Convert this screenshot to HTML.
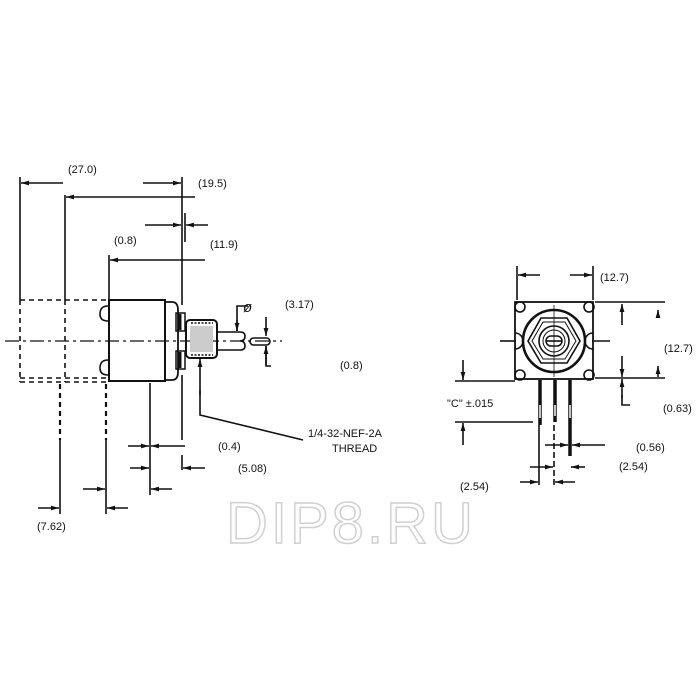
<!DOCTYPE html>
<html><head><style>html,body{margin:0;padding:0;background:#fff}svg{display:block}</style></head>
<body>
<svg width="700" height="700" viewBox="0 0 700 700" xmlns="http://www.w3.org/2000/svg">
<defs>
<marker id="a" viewBox="0 0 10 6" refX="10" refY="3" markerWidth="8" markerHeight="5" orient="auto-start-reverse" markerUnits="userSpaceOnUse"><path d="M0,0L10,3L0,6z" fill="#111"/></marker>
</defs>
<g stroke="#111" stroke-width="1.6" fill="none">
<line x1="20" y1="177" x2="20" y2="300"/>
<line x1="65" y1="195" x2="65" y2="300"/>
<line x1="109" y1="255" x2="109" y2="300"/>
<line x1="182" y1="177" x2="182" y2="305"/>
<line x1="182" y1="375" x2="182" y2="440"/>
<line x1="185" y1="213" x2="185" y2="242"/>
<line x1="182" y1="455" x2="182" y2="470"/>
<line x1="63" y1="183" x2="21" y2="183" marker-end="url(#a)"/>
<line x1="143" y1="183" x2="181" y2="183" marker-end="url(#a)"/>
<line x1="195" y1="197" x2="66" y2="197" marker-end="url(#a)"/>
<line x1="145" y1="225" x2="181" y2="225" marker-end="url(#a)"/>
<line x1="208" y1="225" x2="186" y2="225" marker-end="url(#a)"/>
<line x1="205" y1="260" x2="110" y2="260" marker-end="url(#a)"/>
<g stroke-dasharray="5,4">
<line x1="20" y1="300" x2="108" y2="300"/>
<line x1="20" y1="300" x2="20" y2="382"/>
<line x1="20" y1="382" x2="108" y2="382"/>
<line x1="20" y1="378" x2="108" y2="378"/>
<line x1="65" y1="300" x2="65" y2="382"/>
<line x1="60" y1="384" x2="60" y2="440" stroke-width="2.2"/>
<line x1="106" y1="384" x2="106" y2="440" stroke-width="2.2"/>
</g>
<line x1="60" y1="440" x2="60" y2="514"/>
<line x1="106" y1="440" x2="106" y2="514"/>
<line x1="150" y1="383" x2="150" y2="495"/>
<line x1="5" y1="341" x2="282" y2="341" stroke-dasharray="14,4,3,4" stroke-width="1.3"/>
<rect x="109" y="300" width="56" height="81" stroke-width="2"/>
<path d="M165,302 H172 Q178,302 178,310 V372 Q178,380 172,380 H165" stroke-width="1.8"/>
<path d="M108,306 Q100,306 100,314 Q100,321 108,321" /><path d="M108,360 Q100,360 100,368 Q100,375 108,375"/>
<rect x="176" y="313" width="9" height="18" stroke-width="1.5"/>
<rect x="176" y="351" width="9" height="18" stroke-width="1.5"/>
<line x1="180" y1="314" x2="180" y2="330" stroke-width="3"/>
<line x1="180" y1="352" x2="180" y2="368" stroke-width="3"/>
<rect x="186" y="320" width="31" height="38" rx="4" stroke-width="2"/>
<rect x="190" y="326" width="23" height="26" fill="#ccc" stroke="none"/>
<line x1="191" y1="323" x2="213" y2="323" stroke-dasharray="2,1.5"/>
<line x1="191" y1="355" x2="213" y2="355" stroke-dasharray="2,1.5"/>
<path d="M217,332 H240 Q245,332 245,336 Q245,341 240,341 Q245,341 245,346 Q245,350 240,350 H217"/>
<rect x="250" y="338" width="20" height="7" rx="3.5"/>
<path d="M248,306 H237 V331" /><line x1="237" y1="320" x2="237" y2="331" marker-end="url(#a)"/>
<line x1="266" y1="317" x2="266" y2="336" marker-end="url(#a)"/>
<line x1="266" y1="365" x2="266" y2="346" marker-end="url(#a)"/>
<path d="M266,346 V366 H271"/>
<line x1="200" y1="395" x2="200" y2="359" marker-end="url(#a)"/>
<path d="M200,390 V415 L303,440"/>
<line x1="128" y1="446" x2="149" y2="446" marker-end="url(#a)"/>
<line x1="185" y1="446" x2="151" y2="446" marker-end="url(#a)"/>
<line x1="130" y1="468" x2="149" y2="468" marker-end="url(#a)"/>
<line x1="205" y1="468" x2="183" y2="468" marker-end="url(#a)"/>
<line x1="83" y1="489" x2="105" y2="489" marker-end="url(#a)"/>
<line x1="172" y1="489" x2="151" y2="489" marker-end="url(#a)"/>
<line x1="38" y1="508" x2="59" y2="508" marker-end="url(#a)"/>
<line x1="128" y1="508" x2="107" y2="508" marker-end="url(#a)"/>

<rect x="515" y="302" width="78" height="77" stroke-width="1.8"/>
<circle cx="520" cy="307" r="5"/><circle cx="589" cy="307" r="5"/>
<circle cx="520" cy="375" r="5"/><circle cx="589" cy="375" r="5"/>
<path d="M515,333 A8,8 0 0 1 515,349"/><path d="M593,333 A8,8 0 0 0 593,349"/>
<circle cx="554" cy="341" r="31" stroke-width="2.6"/>
<polygon points="541,318 567,318 580,341 567,363 541,363 528,341" stroke-width="1.6"/>
<polygon points="543,322 565,322 576,341 565,359 543,359 532,341" stroke-width="1"/>
<circle cx="554" cy="341" r="15" stroke-width="1.6"/>
<circle cx="554" cy="341" r="11" stroke-width="1"/>
<rect x="546" y="336" width="16" height="10" rx="5" stroke-width="1.5"/>
<line x1="546" y1="341" x2="562" y2="341"/>
<line x1="500" y1="341" x2="516" y2="341"/><line x1="592" y1="341" x2="610" y2="341"/>
<line x1="554" y1="305" x2="554" y2="377" stroke-width="0.8"/>
<g stroke-width="3.5"><line x1="540" y1="380" x2="540" y2="425"/><line x1="555" y1="380" x2="555" y2="422"/><line x1="570" y1="380" x2="570" y2="456"/></g>
<g stroke="#fff" stroke-width="1.5"><line x1="540" y1="405" x2="540" y2="418"/><line x1="555" y1="405" x2="555" y2="416"/><line x1="570" y1="405" x2="570" y2="418"/></g>
<line x1="539" y1="425" x2="539" y2="485"/><line x1="554" y1="425" x2="554" y2="485" stroke-dasharray="6,3"/>
<line x1="517" y1="266" x2="517" y2="300"/><line x1="593" y1="266" x2="593" y2="300"/>
<line x1="540" y1="275" x2="518" y2="275" marker-end="url(#a)"/>
<line x1="570" y1="275" x2="592" y2="275" marker-end="url(#a)"/>
<line x1="595" y1="302" x2="665" y2="302"/>
<line x1="595" y1="378" x2="665" y2="378"/>
<line x1="622" y1="325" x2="622" y2="304" marker-end="url(#a)"/>
<line x1="658" y1="310" x2="658" y2="318" marker-start="url(#a)"/>
<line x1="622" y1="356" x2="622" y2="377" marker-end="url(#a)"/>
<line x1="658" y1="366" x2="658" y2="377" marker-start="url(#a)"/>
<line x1="622" y1="398" x2="622" y2="379" marker-end="url(#a)"/>
<path d="M622,395 V405 H630"/>
<line x1="455" y1="381" x2="515" y2="381"/>
<line x1="455" y1="422" x2="533" y2="422"/>
<line x1="463" y1="360" x2="463" y2="380" marker-end="url(#a)"/>
<line x1="463" y1="445" x2="463" y2="423" marker-end="url(#a)"/>
<line x1="545" y1="445" x2="568" y2="445" marker-end="url(#a)"/>
<line x1="605" y1="445" x2="572" y2="445" marker-end="url(#a)"/>
<line x1="530" y1="467" x2="553" y2="467" marker-end="url(#a)"/>
<line x1="585" y1="467" x2="571" y2="467" marker-end="url(#a)"/>
<line x1="520" y1="482" x2="538" y2="482" marker-end="url(#a)"/>
<line x1="575" y1="482" x2="555" y2="482" marker-end="url(#a)"/>
</g>
<g font-family="Liberation Sans, sans-serif" font-size="11" fill="#111">
<text x="68" y="173">(27.0)</text>
<text x="198" y="187">(19.5)</text>
<text x="114" y="244">(0.8)</text>
<text x="210" y="248">(11.9)</text>
<text x="243" y="312" font-size="15" font-style="italic">ø</text>
<text x="285" y="308">(3.17)</text>
<text x="340" y="369">(0.8)</text>
<text x="218" y="450">(0.4)</text>
<text x="238" y="472">(5.08)</text>
<text x="308" y="437">1/4-32-NEF-2A</text>
<text x="332" y="452">THREAD</text>
<text x="37" y="530">(7.62)</text>
<text x="600" y="281">(12.7)</text>
<text x="664" y="352">(12.7)</text>
<text x="663" y="412">(0.63)</text>
<text x="447" y="407">"C" ±.015</text>
<text x="636" y="451">(0.56)</text>
<text x="619" y="470">(2.54)</text>
<text x="460" y="490">(2.54)</text>
</g>
<text x="226" y="543" font-family="Liberation Sans, sans-serif" font-size="58" fill="#fff" stroke="#d0d0d0" stroke-width="1.5" letter-spacing="3">DIP8.RU</text>
</svg>
</body></html>
